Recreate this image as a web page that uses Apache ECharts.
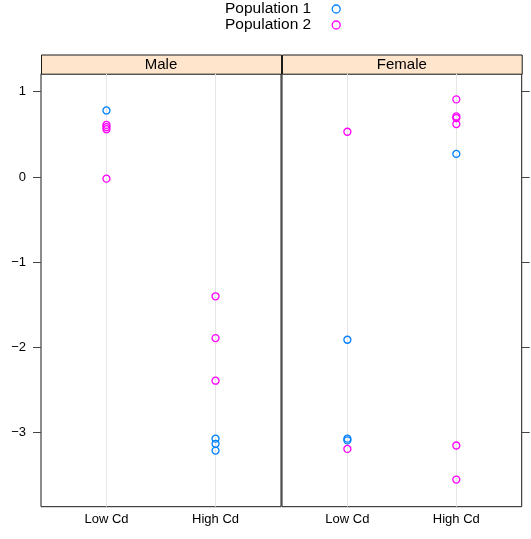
<!DOCTYPE html>
<html>
<head>
<meta charset="utf-8">
<script src="https://cdn.jsdelivr.net/npm/echarts@6/dist/echarts.min.js"></script>
<style>html,body{margin:0;padding:0;background:#fff;}#c{width:531px;height:539px;}</style>
</head>
<body>
<div id="c"></div>
<script>
const categories = ['Low Cd', 'High Cd'];
const panels = ['Male', 'Female'];
const seriesNames = ['Population 1', 'Population 2'];
const yTicks = [-3, -2, -1, 0, 1];

// values per category (Low Cd, High Cd)
const malePop1Low = [0.78];
const malePop1High = [-3.07, -3.13, -3.21];
const malePop2Low = [0.61, 0.585, 0.56, -0.02];
const malePop2High = [-1.40, -1.89, -2.39];
const femalePop1Low = [-1.91, -3.07, -3.09];
const femalePop1High = [0.27];
const femalePop2Low = [0.53, -3.19];
const femalePop2High = [0.91, 0.71, 0.69, 0.62, -3.15, -3.55];

const colors = ['#0080ff', '#ff00ff'];
const font = '"Liberation Sans", Arial, sans-serif';

function pts(low, high) {
  return low.map(v => [1, v]).concat(high.map(v => [2, v]));
}

const chart = echarts.init(document.getElementById('c'), null, {renderer: 'canvas'});

const grids = [
  {left: 41, width: 240, top: 73.7, bottom: 32.3, show: true, borderColor: '#1a1a1a', borderWidth: 1, backgroundColor: 'transparent'},
  {left: 282, right: 9.3, top: 73.7, bottom: 32.3, show: true, borderColor: '#1a1a1a', borderWidth: 1, backgroundColor: 'transparent'}
];

const xAxes = [0, 1].map(i => ({
  type: 'value', gridIndex: i, min: 0.4, max: 2.6,
  axisLine: {show: false},
  axisTick: {show: false, customValues: [1, 2]},
  axisLabel: {customValues: [1, 2], formatter: v => categories[Math.round(v) - 1], color: '#000', fontSize: 13, fontFamily: font, margin: 6},
  splitLine: {show: true, lineStyle: {color: '#e6e6e6', width: 1}}
}));

const yMin = -3.868, yMax = 1.211;
const yAxes = [
  {type: 'value', gridIndex: 0, position: 'left', min: yMin, max: yMax,
   axisLine: {show: false},
   axisTick: {show: true, customValues: yTicks, length: 8, lineStyle: {color: '#444'}},
   axisLabel: {customValues: yTicks, formatter: v => String(v).replace('-', '\u2212'), color: '#000', fontSize: 13, fontFamily: font, margin: 15},
   splitLine: {show: false}},
  {type: 'value', gridIndex: 1, position: 'right', min: yMin, max: yMax,
   axisLine: {show: false},
   axisTick: {show: true, customValues: yTicks, length: 8, lineStyle: {color: '#444'}},
   axisLabel: {show: false},
   splitLine: {show: false}}
];

const sym = (c) => ({color: 'rgba(255,255,255,0)', borderColor: c, borderWidth: 1.3, opacity: 1});
function mk(name, gi, c, data) {
  return {name: name, type: 'scatter', xAxisIndex: gi, yAxisIndex: gi, symbol: 'circle', symbolSize: 7,
          itemStyle: sym(c), emphasis: {disabled: true}, data: data};
}
const series = [
  mk(seriesNames[0], 0, colors[0], pts(malePop1Low, malePop1High)),
  mk(seriesNames[1], 0, colors[1], pts(malePop2Low, malePop2High)),
  mk(seriesNames[0], 1, colors[0], pts(femalePop1Low, femalePop1High)),
  mk(seriesNames[1], 1, colors[1], pts(femalePop2Low, femalePop2High))
];

const stripTop = 54.5, stripH = 19.2;
const strips = [
  {x: 41, w: 240, label: panels[0]},
  {x: 282, w: 239.7, label: panels[1]}
];
const graphic = [];
strips.forEach(s => {
  graphic.push({type: 'rect', left: s.x, top: stripTop, shape: {width: s.w, height: stripH}, style: {fill: '#ffe5cc', stroke: '#1a1a1a', lineWidth: 1}, silent: true});
  graphic.push({type: 'text', x: s.x + s.w / 2, y: stripTop + stripH / 2 + 0.5, style: {text: s.label, fill: '#000', font: '15px ' + font, textAlign: 'center', textVerticalAlign: 'middle'}, silent: true});
});

chart.setOption({
  animation: false,
  backgroundColor: '#fff',
  grid: grids,
  xAxis: xAxes,
  yAxis: yAxes,
  legend: {
    data: seriesNames.map((n, i) => ({name: n, icon: 'circle', itemStyle: {color: 'rgba(255,255,255,0)', borderColor: colors[i], borderWidth: 1.3}})),
    orient: 'vertical', align: 'right',
    left: 220, top: -4,
    itemGap: 0, itemWidth: 40, itemHeight: 8,
    symbolKeepAspect: true,
    selectedMode: false,
    textStyle: {color: '#000', fontSize: 15.5, fontFamily: font, lineHeight: 15}
  },
  graphic: graphic,
  series: series
});
</script>
</body>
</html>
